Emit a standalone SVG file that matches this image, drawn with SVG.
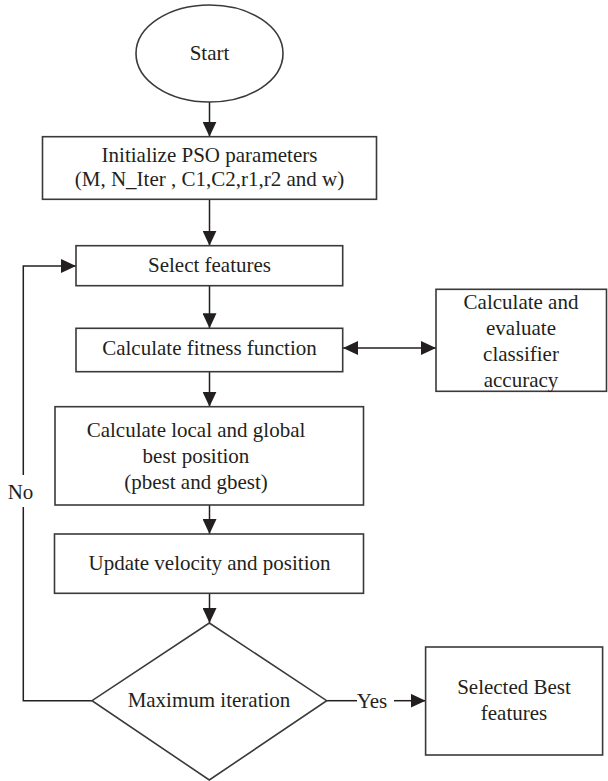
<svg xmlns="http://www.w3.org/2000/svg" width="608" height="781" viewBox="0 0 608 781">
  <defs>
    <marker id="ah" markerWidth="15" markerHeight="14" refX="15" refY="7" orient="auto-start-reverse" markerUnits="userSpaceOnUse">
      <path d="M0,0 L15,7 L0,14 z" fill="#231f20"/>
    </marker>
    <style>
      .box { fill: #ffffff; stroke: #3a3a3a; stroke-width: 1.6; }
      .ln { fill: none; stroke: #231f20; stroke-width: 1.5; }
      .arr { marker-end: url(#ah); }
      text { font-family: "Liberation Serif", "Times New Roman", serif; font-size: 21px; fill: #231f20; text-anchor: middle; }
    </style>
  </defs>
  <rect width="608" height="781" fill="#ffffff"/>

  <g id="connectors">
    <line class="ln arr" x1="209.5" y1="102" x2="209.5" y2="136.7"/>
    <line class="ln arr" x1="209.5" y1="199.3" x2="209.5" y2="245.7"/>
    <line class="ln arr" x1="209.5" y1="285.7" x2="209.5" y2="328.3"/>
    <line class="ln" x1="343" y1="348" x2="436" y2="348" marker-start="url(#ah)" marker-end="url(#ah)"/>
    <line class="ln arr" x1="209.5" y1="371.7" x2="209.5" y2="406.7"/>
    <line class="ln arr" x1="209.5" y1="505" x2="209.5" y2="534"/>
    <line class="ln arr" x1="209.5" y1="593.3" x2="209.5" y2="623"/>
    <polyline class="ln" points="92,700.7 23.3,700.7 23.3,507"/>
    <polyline class="ln arr" points="23.3,475 23.3,266 76,266"/>
    <text x="20.5" y="499">No</text>
    <line class="ln" x1="326.7" y1="700.7" x2="357" y2="700.7"/>
    <text x="372" y="708">Yes</text>
    <line class="ln arr" x1="394" y1="700.7" x2="425.6" y2="700.7"/>
  </g>

  <g id="start">
    <ellipse class="box" cx="209.5" cy="53.5" rx="73.5" ry="48.5"/>
    <text x="209.5" y="60">Start</text>
  </g>

  <g id="init">
    <rect class="box" x="42.5" y="136.7" width="334" height="62.6"/>
    <text x="209.5" y="161.5">Initialize PSO parameters</text>
    <text x="209.5" y="185.5">(M, N_Iter , C1,C2,r1,r2 and w)</text>
  </g>

  <g id="select">
    <rect class="box" x="76" y="245.7" width="266.7" height="40"/>
    <text x="209.5" y="272">Select features</text>
  </g>

  <g id="fitness">
    <rect class="box" x="76" y="328.3" width="266.7" height="43.4"/>
    <text x="209.5" y="355">Calculate fitness function</text>
  </g>

  <g id="evaluate">
    <rect class="box" x="436" y="289.3" width="170.5" height="102"/>
    <text x="521" y="309">Calculate and</text>
    <text x="521" y="335">evaluate</text>
    <text x="521" y="361">classifier</text>
    <text x="521" y="387">accuracy</text>
  </g>

  <g id="best">
    <rect class="box" x="55" y="406.7" width="308.5" height="98.3"/>
    <text x="196" y="437">Calculate local and global</text>
    <text x="196" y="463">best position</text>
    <text x="196" y="489">(pbest and gbest)</text>
  </g>

  <g id="update">
    <rect class="box" x="54.5" y="534" width="309" height="59.3"/>
    <text x="209.5" y="570">Update velocity and position</text>
  </g>

  <g id="decision">
    <polygon class="box" points="209.3,623 326.7,700.7 209.3,780 92,700.7"/>
    <text x="209" y="707">Maximum iteration</text>
  </g>

  <g id="selected">
    <rect class="box" x="425.6" y="647" width="177" height="108"/>
    <text x="514" y="694">Selected Best</text>
    <text x="514" y="720">features</text>
  </g>
</svg>
